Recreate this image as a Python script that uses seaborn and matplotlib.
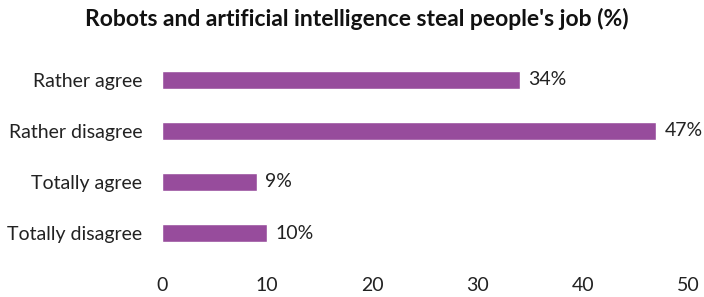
import matplotlib
matplotlib.use("Agg")
import matplotlib.pyplot as plt
import seaborn as sns
import pandas as pd

categories = ["Rather agree", "Rather disagree", "Totally agree", "Totally disagree"]
values = [34, 47, 9, 10]
x_ticks = [0, 10, 20, 30, 40, 50]

df = pd.DataFrame({"answer": categories, "share": values})

sns.set_style("white")
plt.rcParams["font.family"] = ["Lato", "DejaVu Sans"]

fig = plt.figure(figsize=(7.04, 2.97), dpi=100)
ax = fig.add_axes([0.230, 0.1296, 0.747, 0.687])

sns.barplot(data=df, x="share", y="answer", color="#974c9c", width=0.36,
            saturation=1, ax=ax)

for i, v in enumerate(values):
    ax.text(v + 0.8, i, f"{v}%", va="center", ha="left", fontsize=14, color="#222222")

ax.set_xlim(0, 50)
ax.set_xticks(x_ticks)
ax.tick_params(axis="x", length=0, pad=13, labelsize=14, colors="#222222")
ax.tick_params(axis="y", length=0, pad=14, labelsize=14, colors="#222222")
ax.set_xlabel("")
ax.set_ylabel("")
sns.despine(ax=ax, left=True, bottom=True)

fig.suptitle("Robots and artificial intelligence steal people's job (%)",
             x=0.507, y=0.975, fontsize=16.5, fontweight="bold", color="#111111")

fig.savefig("out.png", dpi=100)
